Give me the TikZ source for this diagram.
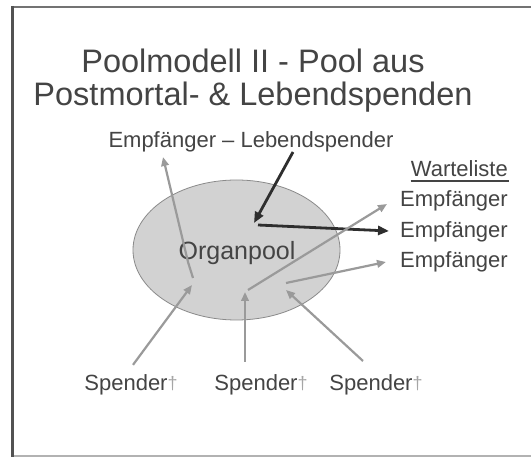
\documentclass[tikz,border=0pt]{standalone}
\usepackage{fontspec}
\setmainfont{Liberation Sans}
\usetikzlibrary{arrows.meta}
\definecolor{txt}{HTML}{444444}
\definecolor{lightarr}{HTML}{9A9A9A}
\definecolor{darkarr}{HTML}{2E2E2E}
\definecolor{poolfill}{HTML}{D2D2D2}
\definecolor{poolline}{HTML}{8A8A8A}
\tikzset{
  lbl/.style={inner sep=0pt, text=txt, font=\fontsize{22}{24}\selectfont},
  ttl/.style={inner sep=0pt, text=txt, font=\fontsize{32.5}{36}\selectfont},
  grayarrow/.style={draw=lightarr, line width=2.2pt, -{Triangle[length=9pt,width=7.5pt]}},
  darkarrow/.style={draw=darkarr, line width=2.8pt, -{Triangle[length=11pt,width=9pt]}},
}
\newcommand{\dgr}{{\color{black!35}\fontsize{18}{18}\selectfont\raisebox{1pt}{†}}}
\begin{document}
\begin{tikzpicture}[x=1pt, y=-1pt]
  \useasboundingbox (0,0) rectangle (531,457);
  \fill[white] (0,0) rectangle (531,457);
  % slide frame
  \draw[draw=black!30, line width=1.5pt] (12,456) -- (531,456);
  \draw[draw=black!55, line width=2pt] (12,7) -- (531,7);
  \draw[draw=black!68, line width=3pt] (12,6) -- (12,457);

  % title
  \node[ttl, anchor=base] (t1) at (253,73) {Poolmodell II - Pool aus};
  \node[ttl, anchor=base] (t2) at (253,106) {Postmortal- \& Lebendspenden};

  % organ pool
  \draw[fill=poolfill, draw=poolline, line width=0.8pt] (236.5,250) ellipse [x radius=103.5, y radius=70];
  \node[inner sep=0pt, text=txt, font=\fontsize{25}{27}\selectfont, anchor=base] (pool) at (237,260) {Organpool};

  % recipients
  \node[lbl, anchor=base] (pair) at (251,148) {Empfänger – Lebendspender};
  \node[lbl, anchor=base east] (wl) at (508,177) {Warteliste};
  \draw[draw=txt, line width=1.2pt] (wl.base west) ++(0,4) -- ++(98,0);
  \node[lbl, anchor=base east] (e1) at (508,207) {Empfänger};
  \node[lbl, anchor=base east] (e2) at (508,238) {Empfänger};
  \node[lbl, anchor=base east] (e3) at (508,268) {Empfänger};

  % deceased donors
  \node[lbl, anchor=base] (d1) at (131,391) {Spender\dgr};
  \node[lbl, anchor=base] (d2) at (261,391) {Spender\dgr};
  \node[lbl, anchor=base] (d3) at (376,391) {Spender\dgr};

  % points inside the pool and arrow ends beside the recipients
  \coordinate (p1) at (192,285);
  \coordinate (p1b) at (193,278);
  \coordinate (p1c) at (188,262);
  \coordinate (pd) at (254,223);
  \coordinate (pe) at (258,225);
  \coordinate (p2) at (245,292);
  \coordinate (p2b) at (248,290);
  \coordinate (p3) at (286,290);
  \coordinate (p3b) at (286,283);
  \coordinate (r1) at (387,204);
  \coordinate (r2) at (389,231);
  \coordinate (r3) at (386,262);
  \coordinate (rp) at (163,157);
  \coordinate (lp) at (293,152);

  % flows of organs
  \draw[grayarrow] (d1.north) ++(2,-10) -- (p1);
  \draw[grayarrow] (p1b) -- (p1c) -- (rp);
  \draw[darkarrow] (lp) -- (pd);
  \draw[darkarrow] (pe) -- (r2);
  \draw[grayarrow] (p2b) -- (r1);
  \draw[grayarrow] (245,362) -- (p2);
  \draw[grayarrow] (p3b) -- (r3);
  \draw[grayarrow] (363,361) -- (p3);
\end{tikzpicture}
\end{document}
